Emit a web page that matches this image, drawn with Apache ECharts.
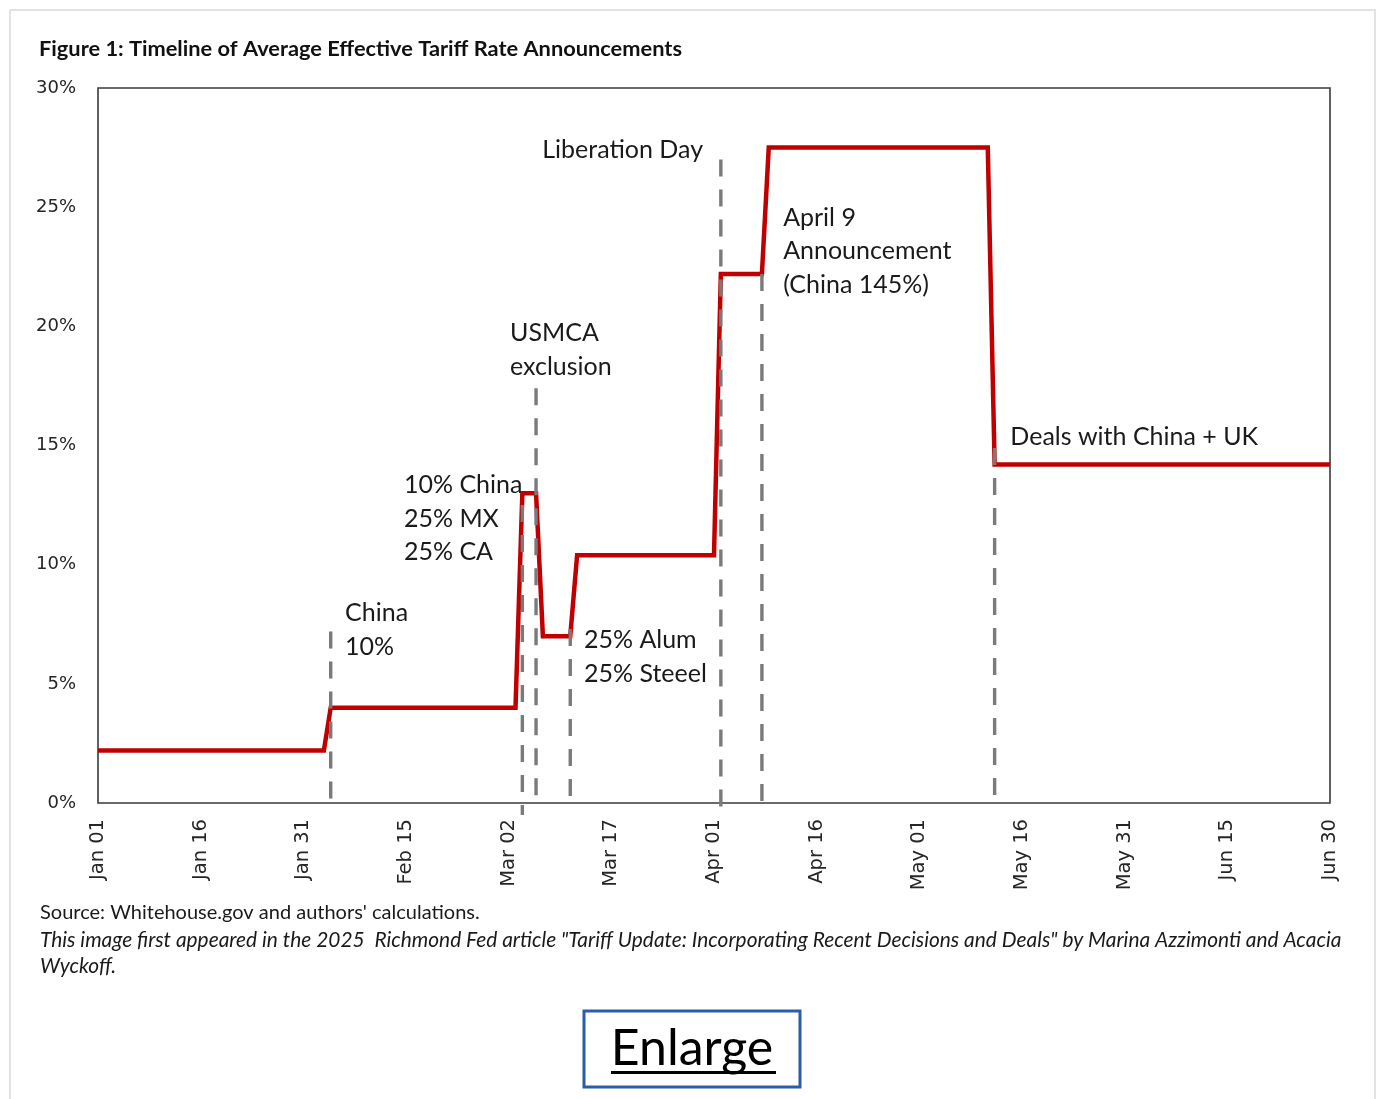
<!DOCTYPE html>
<html>
<head>
<meta charset="utf-8">
<script src="https://cdn.jsdelivr.net/npm/echarts@6/dist/echarts.min.js"></script>
<style>
  html, body { margin: 0; padding: 0; background: #ffffff; }
  #chart { width: 1377px; height: 1099px; }
</style>
</head>
<body>
<div id="chart"></div>
<script>
// Average effective tariff rate (%), held between the dates where it changes
const changeDates = ['2025-01-01', '2025-02-03', '2025-02-04', '2025-03-03', '2025-03-04',
                     '2025-03-06', '2025-03-07', '2025-03-11', '2025-03-12', '2025-04-01',
                     '2025-04-02', '2025-04-08', '2025-04-09', '2025-05-11', '2025-05-12',
                     '2025-06-30'];
const tariffRates = [2.2, 2.2, 4.0, 4.0, 13.0, 13.0, 7.0, 7.0, 10.4, 10.4,
                     22.2, 22.2, 27.5, 27.5, 14.2, 14.2];

// Announcement dates with the extent (in %) of their dashed marker lines
const eventDates   = ['2025-02-04', '2025-03-04', '2025-03-06', '2025-03-11',
                      '2025-04-02', '2025-04-08', '2025-05-12'];
const eventTops    = [7.2, 12.5, 17.4, 7.3, 27.0, 22.2, 14.9];
const eventBottoms = [0, -0.5, 0, 0, -0.5, 0, 0];

// Axis tick labels (x every 15 days from Jan 01)
const xTickLabels = ['Jan 01', 'Jan 16', 'Jan 31', 'Feb 15', 'Mar 02', 'Mar 17', 'Apr 01',
                     'Apr 16', 'May 01', 'May 16', 'May 31', 'Jun 15', 'Jun 30'];
const yTickValues = [0, 5, 10, 15, 20, 25, 30];

// Annotation text and the (day, %) point it is anchored to
const noteTexts = [
  ['Liberation Day'],
  ['April 9', 'Announcement', '(China 145%)'],
  ['USMCA', 'exclusion'],
  ['10% China', '25% MX', '25% CA'],
  ['China', '10%'],
  ['25% Alum', '25% Steeel'],
  ['Deals with China + UK']
];
const noteAnchors = [[88.4, 27.4], [100.1, 24.55], [60.2, 19.72], [44.7, 13.34],
                     [36.1, 7.97], [71.0, 6.84], [133.3, 15.36]];
const noteAlign = ['right', 'left', 'left', 'left', 'left', 'left', 'left'];

const DAY_MS = 86400000;
const START = Date.UTC(2025, 0, 1);
function dayOf(iso) {
  const p = iso.split('-').map(Number);
  return Math.round((Date.UTC(p[0], p[1] - 1, p[2]) - START) / DAY_MS);
}

const ratePoints = changeDates.map((d, i) => [dayOf(d), tariffRates[i]]);

const eventSeries = eventDates.map((d, i) => ({
  type: 'line',
  name: 'event' + i,
  data: [[dayOf(d), eventTops[i]], [dayOf(d), eventBottoms[i]]],
  symbol: 'none',
  clip: false,
  silent: true,
  z: 5,
  lineStyle: { color: '#7a7a7a', width: 3.4, type: [17, 13] }
}));

const chart = echarts.init(document.getElementById('chart'), null, { renderer: 'canvas' });

const option = {
  backgroundColor: '#ffffff',
  animation: false,
  title: {
    text: 'Figure 1: Timeline of Average Effective Tariff Rate Announcements',
    left: 34, top: 33,
    textStyle: { fontFamily: 'Lato', fontWeight: 'bold', fontSize: 21.8, color: '#111111' }
  },
  grid: {
    left: 98, right: 47, top: 88, bottom: 296,
    show: true, borderColor: '#3a3a3a', borderWidth: 1.6, backgroundColor: 'transparent'
  },
  xAxis: {
    type: 'value', min: 0, max: 180, interval: 15,
    axisLine: { show: false }, axisTick: { show: false }, splitLine: { show: false },
    axisLabel: {
      rotate: 90, margin: 16,
      fontFamily: 'DejaVu Sans', fontSize: 19.5, color: '#262626',
      showMinLabel: true, showMaxLabel: true,
      formatter: v => xTickLabels[Math.round(v / 15)] || ''
    }
  },
  yAxis: {
    type: 'value', min: 0, max: 30, interval: 5,
    axisLine: { show: false }, axisTick: { show: false }, splitLine: { show: false },
    axisLabel: {
      margin: 22, fontFamily: 'DejaVu Sans', fontSize: 18, color: '#262626',
      formatter: v => (yTickValues.indexOf(v) >= 0 ? v + '%' : '')
    }
  },
  series: [
    {
      type: 'line',
      name: 'Average effective tariff rate',
      data: ratePoints,
      symbol: 'none',
      z: 3,
      lineStyle: { color: '#c00000', width: 4.5, join: 'miter' }
    }
  ].concat(eventSeries)
};

chart.setOption(option);

// Annotations and page furniture placed after the axes exist
const LINE_H = 33.5;
const graphics = [
  {
    type: 'rect', silent: true,
    shape: { x: 10, y: 10, width: 1365, height: 1100 },
    style: { fill: 'none', stroke: '#e3e3e3', lineWidth: 2 }
  }
];

noteTexts.forEach((lines, i) => {
  const px = chart.convertToPixel({ gridIndex: 0 }, noteAnchors[i]);
  graphics.push({
    type: 'text', silent: true, z: 10,
    x: px[0], y: px[1] - LINE_H / 2,
    style: {
      text: lines.join('\n'),
      font: '25px Lato',
      fill: '#1a1a1a',
      align: noteAlign[i],
      verticalAlign: 'top',
      lineHeight: LINE_H
    }
  });
});

graphics.push(
  {
    type: 'text', silent: true, x: 40, y: 913,
    style: {
      text: "Source: Whitehouse.gov and authors' calculations.",
      font: '20px Lato', fill: '#1a1a1a', verticalAlign: 'middle'
    }
  },
  {
    type: 'text', silent: true, x: 40, y: 940,
    style: {
      text: 'This image first appeared in the 2025  Richmond Fed article "Tariff Update: Incorporating Recent Decisions and Deals" by Marina Azzimonti and Acacia',
      font: 'italic 20.9px Lato', fill: '#1a1a1a', verticalAlign: 'middle'
    }
  },
  {
    type: 'text', silent: true, x: 40, y: 966,
    style: { text: 'Wyckoff.', font: 'italic 20.9px Lato', fill: '#1a1a1a', verticalAlign: 'middle' }
  },
  {
    type: 'rect', silent: true,
    shape: { x: 584, y: 1011, width: 216, height: 76 },
    style: { fill: '#ffffff', stroke: '#2b5ca8', lineWidth: 3 }
  },
  {
    type: 'text', silent: true, x: 692, y: 1049,
    style: { text: 'Enlarge', font: '50px Lato', fill: '#000000', align: 'center', verticalAlign: 'middle' }
  },
  {
    type: 'rect', silent: true,
    shape: { x: 611, y: 1071, width: 165, height: 3 },
    style: { fill: '#000000' }
  }
);

chart.setOption({ graphic: graphics });
</script>
</body>
</html>
